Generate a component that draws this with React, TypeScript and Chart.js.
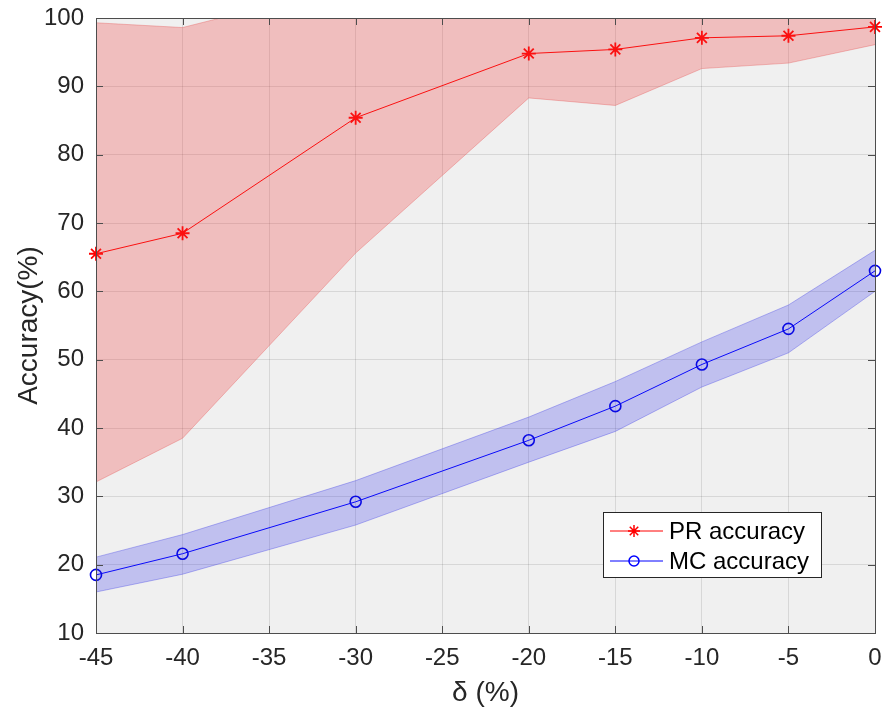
import React, { useEffect, useRef } from "react";
import { Chart, registerables } from "chart.js";

Chart.register(...registerables);

const deltas = [-45, -40, -30, -20, -15, -10, -5, 0];
const prAccuracy = [65.5, 68.5, 85.4, 94.8, 95.4, 97.1, 97.4, 98.7];
const prUpper = [99.3, 98.6, 105, 103, 102, 102, 102, 102];
const prLower = [32.1, 38.5, 65.6, 88.3, 87.2, 92.6, 93.4, 96.1];
const mcAccuracy = [18.5, 21.6, 29.2, 38.2, 43.2, 49.3, 54.5, 63.0];
const mcUpper = [21.1, 24.4, 32.3, 41.6, 46.8, 52.6, 58.0, 66.0];
const mcLower = [16.0, 18.6, 25.8, 35.0, 39.5, 46.0, 51.0, 60.0];
const seriesLabels = ["PR accuracy", "MC accuracy"];
const xTitle = "δ (%)";
const yTitle = "Accuracy(%)";

const FONT = "'Liberation Sans', Arial, Helvetica, sans-serif";
const TEXT = "#262626";

const pts = (ys: number[]) => deltas.map((x, i) => ({ x, y: ys[i] }));

const bgPlugin = {
  id: "plotBg",
  beforeDraw(chart: any) {
    const { ctx, chartArea: a } = chart;
    ctx.save();
    ctx.fillStyle = "#ffffff";
    ctx.fillRect(0, 0, chart.width, chart.height);
    ctx.fillStyle = "#f0f0f0";
    ctx.fillRect(a.left, a.top, a.right - a.left, a.bottom - a.top);
    ctx.restore();
  },
};

const boxPlugin = {
  id: "boxTicks",
  afterDatasetsDraw(chart: any) {
    const { ctx, chartArea: a, scales } = chart;
    ctx.save();
    ctx.strokeStyle = "#4d4d4d";
    ctx.lineWidth = 1;
    const L = 7;
    ctx.beginPath();
    scales.x.ticks.forEach((t: any) => {
      const px = Math.round(scales.x.getPixelForValue(t.value)) + 0.5;
      ctx.moveTo(px, a.bottom);
      ctx.lineTo(px, a.bottom - L);
      ctx.moveTo(px, a.top);
      ctx.lineTo(px, a.top + L);
    });
    scales.y.ticks.forEach((t: any) => {
      const py = Math.round(scales.y.getPixelForValue(t.value)) + 0.5;
      ctx.moveTo(a.left, py);
      ctx.lineTo(a.left + L, py);
      ctx.moveTo(a.right, py);
      ctx.lineTo(a.right - L, py);
    });
    ctx.stroke();
    ctx.strokeRect(
      Math.round(a.left) + 0.5,
      Math.round(a.top) + 0.5,
      Math.round(a.right - a.left),
      Math.round(a.bottom - a.top)
    );
    ctx.restore();
  },
  afterDraw(chart: any) {
    const { ctx, chartArea: a } = chart;
    const w = 218;
    const h = 65;
    const left = a.right - 54 - w;
    const top = a.bottom - 56 - h;
    ctx.save();
    ctx.fillStyle = "#ffffff";
    ctx.fillRect(left, top, w, h);
    ctx.strokeStyle = "#262626";
    ctx.lineWidth = 1;
    ctx.strokeRect(Math.round(left) + 0.5, Math.round(top) + 0.5, w, h);
    const rows = [
      { label: chart.data.datasets[2].label, color: "#ff0000", style: "star", y: top + 19 },
      { label: chart.data.datasets[5].label, color: "#0000ff", style: "circle", y: top + 49 },
    ];
    rows.forEach((r) => {
      ctx.strokeStyle = r.color;
      ctx.lineWidth = 1;
      ctx.beginPath();
      ctx.moveTo(left + 7, r.y);
      ctx.lineTo(left + 60, r.y);
      ctx.stroke();
      ctx.lineWidth = 1.5;
      const cx = left + 31;
      ctx.beginPath();
      if (r.style === "circle") {
        ctx.arc(cx, r.y, 5, 0, Math.PI * 2);
      } else {
        const rad = 6;
        for (let k = 0; k < 4; k++) {
          const ang = (k * Math.PI) / 4;
          ctx.moveTo(cx - Math.cos(ang) * rad, r.y - Math.sin(ang) * rad);
          ctx.lineTo(cx + Math.cos(ang) * rad, r.y + Math.sin(ang) * rad);
        }
      }
      ctx.stroke();
      ctx.fillStyle = "#000000";
      ctx.font = `24px ${FONT}`;
      ctx.textBaseline = "middle";
      ctx.textAlign = "left";
      ctx.fillText(r.label, left + 66, r.y + 1);
    });
    ctx.restore();
  },
};

export default function App() {
  const ref = useRef<HTMLCanvasElement | null>(null);

  useEffect(() => {
    document.body.style.margin = "0";
    if (!ref.current) return;
    const band = (ys: number[], color: string, edge: string, fill: any) => ({
      data: pts(ys),
      borderColor: edge,
      borderWidth: 0.8,
      backgroundColor: color,
      pointRadius: 0,
      fill,
      clip: 0,
      label: "",
    });
    const chart = new Chart(ref.current, {
      type: "line",
      data: {
        datasets: [
          band(prUpper, "rgba(240,60,60,0.28)", "rgba(230,100,100,0.5)", "+1"),
          band(prLower, "rgba(0,0,0,0)", "rgba(230,100,100,0.5)", false),
          {
            label: seriesLabels[0],
            data: pts(prAccuracy),
            borderColor: "#ff0000",
            borderWidth: 1,
            pointStyle: "star",
            pointRadius: 7,
            pointBorderWidth: 1.8,
            pointBorderColor: "#ff0000",
            pointBackgroundColor: "#ff0000",
            fill: false,
            clip: false,
          } as any,
          band(mcUpper, "rgba(40,40,240,0.24)", "rgba(80,80,230,0.5)", "+1"),
          band(mcLower, "rgba(0,0,0,0)", "rgba(80,80,230,0.5)", false),
          {
            label: seriesLabels[1],
            data: pts(mcAccuracy),
            borderColor: "#0000ff",
            borderWidth: 1,
            pointStyle: "circle",
            pointRadius: 5.5,
            pointBorderWidth: 1.6,
            pointBorderColor: "#0000e0",
            pointBackgroundColor: "rgba(0,0,0,0)",
            fill: false,
            clip: false,
          } as any,
        ],
      },
      options: {
        responsive: false,
        animation: false,
        events: [],
        layout: { padding: { top: 18, right: 11, left: 0, bottom: 0 } },
        plugins: {
          legend: { display: false },
          tooltip: { enabled: false },
        },
        scales: {
          x: {
            type: "linear",
            min: -45,
            max: 0,
            border: { display: false },
            grid: { color: "rgba(0,0,0,0.1)", drawTicks: false },
            ticks: {
              stepSize: 5,
              padding: 11,
              color: TEXT,
              font: { family: FONT, size: 24 },
              maxRotation: 0,
            },
            title: {
              display: true,
              text: xTitle,
              color: TEXT,
              font: { family: FONT, size: 28 },
              padding: { top: 0, bottom: 1 },
            },
            afterFit(scale: any) {
              scale.height = 78;
              scale.paddingLeft = 0;
              scale.paddingRight = 0;
            },
          },
          y: {
            min: 10,
            max: 100,
            border: { display: false },
            grid: { color: "rgba(0,0,0,0.1)", drawTicks: false },
            ticks: {
              stepSize: 10,
              padding: 12,
              color: TEXT,
              font: { family: FONT, size: 24 },
            },
            title: {
              display: true,
              text: yTitle,
              color: TEXT,
              font: { family: FONT, size: 28 },
              padding: { top: 12, bottom: 0 },
            },
            afterFit(scale: any) {
              scale.width = 96;
              scale.paddingTop = 0;
              scale.paddingBottom = 0;
            },
          },
        },
      },
      plugins: [bgPlugin, boxPlugin],
    });
    return () => chart.destroy();
  }, []);

  return (
    <div style={{ position: "absolute", left: 0, top: 0, width: 886, height: 711 }}>
      <canvas ref={ref} width={886} height={711} style={{ width: 886, height: 711 }} />
    </div>
  );
}
